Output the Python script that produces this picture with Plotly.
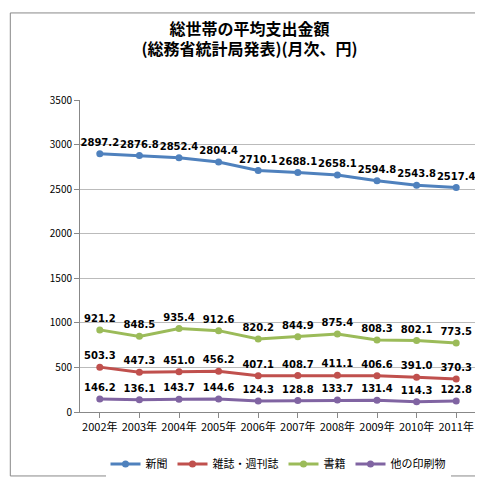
import plotly.graph_objects as go

years = ["2002年","2003年","2004年","2005年","2006年","2007年","2008年","2009年","2010年","2011年"]
shinbun = [2897.2,2876.8,2852.4,2804.4,2710.1,2688.1,2658.1,2594.8,2543.8,2517.4]
zasshi = [503.3,447.3,451.0,456.2,407.1,408.7,411.1,406.6,391.0,370.3]
shoseki = [921.2,848.5,935.4,912.6,820.2,844.9,875.4,808.3,802.1,773.5]
other = [146.2,136.1,143.7,144.6,124.3,128.8,133.7,131.4,114.3,122.8]

series = [("新聞", shinbun, "#4F81BD"), ("雑誌・週刊誌", zasshi, "#C0504D"),
          ("書籍", shoseki, "#9BBB59"), ("他の印刷物", other, "#8064A2")]

fig = go.Figure()
for name, vals, col in series:
    fig.add_trace(go.Scatter(x=years, y=vals, name=name, mode="lines+markers+text",
        line=dict(color=col, width=3), marker=dict(color=col, size=7),
        text=[f"{v:.1f}" for v in vals], textposition="top center",
        textfont=dict(size=10, color="#000", family="DejaVu Sans"),
        texttemplate="<b>%{text}</b>"))

fig.update_layout(
    width=483, height=483, paper_bgcolor="white", plot_bgcolor="white",
    margin=dict(l=72, r=15, t=92, b=69),
    font=dict(family="Noto Sans CJK JP", size=11, color="#000"),
    title=dict(text="<b>総世帯の平均支出金額<br>(総務省統計局発表)(月次、円)</b>",
               x=0.5, xanchor="center", y=0.945, yanchor="top", font=dict(size=16)),
    xaxis=dict(showline=True, linecolor="#888", ticks="outside", tickcolor="#888",
               tickfont=dict(size=11), range=[-0.5, 9.5]),
    yaxis=dict(range=[0, 3500], dtick=500, showgrid=True, gridcolor="#bbb",
               showline=True, linecolor="#888", ticks="outside", tickcolor="#888",
               tickfont=dict(size=10)),
    legend=dict(orientation="h", x=0.5, xanchor="center", y=-0.12, yanchor="top",
                font=dict(size=11)),
    showlegend=True,
    shapes=[dict(type="rect", xref="paper", yref="paper", x0=-0.176, x1=1.032,
                 y0=-0.205, y1=1.279, line=dict(color="#888", width=1))],
)
fig.write_html("out.html")
